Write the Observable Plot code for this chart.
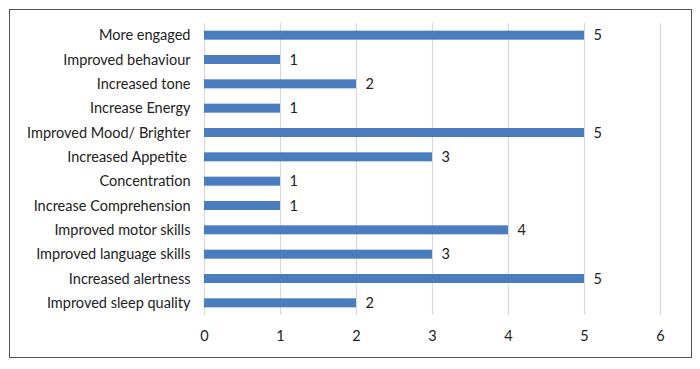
<!DOCTYPE html>
<html>
<head>
<meta charset="utf-8">
<script src="https://cdn.jsdelivr.net/npm/d3@7"></script>
<script src="https://cdn.jsdelivr.net/npm/@observablehq/plot@0.6"></script>
<style>
  html, body { margin: 0; padding: 0; background: #fff; }
  #wrap { position: relative; width: 700px; height: 369px; }
  #border { position: absolute; left: 9px; top: 9px; width: 681px; height: 347px; border: 1px solid #555; box-sizing: content-box; pointer-events: none; }
</style>
</head>
<body>
<div id="wrap"><div id="border"></div><div id="chart"></div></div>
<script>
const categories = [
  "More engaged",
  "Improved behaviour",
  "Increased tone",
  "Increase Energy",
  "Improved Mood/ Brighter",
  "Increased Appetite ",
  "Concentration",
  "Increase Comprehension",
  "Improved motor skills",
  "Improved language skills",
  "Increased alertness",
  "Improved sleep quality"
];
const values = [5, 1, 2, 1, 5, 3, 1, 1, 4, 3, 5, 2];
const xTicks = [0, 1, 2, 3, 4, 5, 6];

const data = categories.map((c, i) => ({category: c, value: values[i]}));

const chart = Plot.plot({
  width: 700,
  height: 369,
  marginLeft: 204,
  marginRight: 40,
  marginTop: 23,
  marginBottom: 54,
  style: {fontFamily: "Lato, 'Open Sans', sans-serif", fontSize: "14.5px", color: "#222", background: "transparent"},
  x: {domain: [0, 6], ticks: xTicks, tickFormat: "d", label: null, tickSize: 0, tickPadding: 15},
  y: {domain: categories, label: null, tickSize: 0, tickPadding: 14, paddingInner: 0.63, paddingOuter: 0.315, round: false},
  marks: [
    Plot.gridX(xTicks, {stroke: "#d9d9d9", strokeOpacity: 1, strokeWidth: 1.2}),
    Plot.barX(data, {x: "value", y: "category", fill: "#4a7dbd"}),
    Plot.text(data, {x: "value", y: "category", text: d => String(d.value), textAnchor: "start", dx: 9, fill: "#222", fontSize: 14.5})
  ]
});
document.getElementById("chart").appendChild(chart);
</script>
</body>
</html>
